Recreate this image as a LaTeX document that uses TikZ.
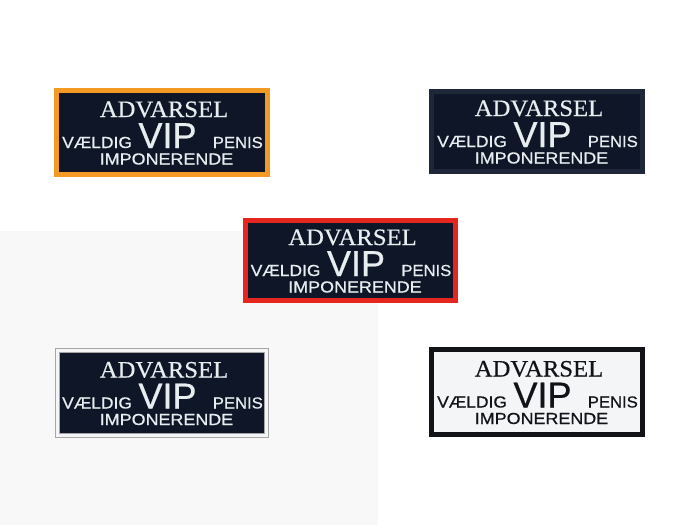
\documentclass[tikz,border=0pt]{standalone}
\usepackage{fontspec}
\setmainfont{Liberation Serif}
\newfontfamily\patchsans{Liberation Sans}[FakeBold=0.7]
\newfontfamily\patchserif{Liberation Serif}[FakeBold=0.5]
\definecolor{patchnavy}{HTML}{0E1628}
\definecolor{stitch}{HTML}{E8EEF0}
\definecolor{inkblack}{HTML}{111318}
\definecolor{patchwhite}{HTML}{F3F5F7}
\definecolor{borderorange}{HTML}{F39A25}
\definecolor{borderred}{HTML}{E5261E}
\definecolor{bordernavy}{HTML}{1E2639}
\definecolor{bgpanel}{HTML}{F8F8F9}
\tikzset{
  patchbox/.style={rectangle, line width=5pt, inner sep=0pt, outer sep=0pt},
  advtext/.style={inner sep=0pt, anchor=base, text depth=0pt, text height=15pt, font=\fontsize{23.5}{24}\patchserif},
  viptext/.style={inner sep=0pt, anchor=base, text depth=0pt, text height=26pt, font=\fontsize{36}{36}\patchsans},
  smalltext/.style={inner sep=0pt, text depth=0pt, text height=11pt, font=\fontsize{16}{16}\patchsans},
}
% #1 name, #2 cx, #3 cy, #4 width, #5 height, #6 box options, #7 fill, #8 text colour
\newcommand\drawpatch[8]{%
  \node[patchbox, minimum width=#4pt-5pt, minimum height=#5pt-5pt, fill=#7, #6] (#1) at (#2,#3) {};
  \node[advtext, text=#8] (#1-adv) at (#2+2,#3-15.5) {\scalebox{1.05}[1]{ADVARSEL}};
  \node[viptext, text=#8] (#1-vip) at (#2+5.5,#3+15.5) {VIP};
  \node[smalltext, anchor=base west, text=#8] (#1-vaeldig) at (#2-100,#3+15.5) {\scalebox{1.09}[1]{VÆLDIG}};
  \node[smalltext, anchor=base east, text=#8] (#1-penis) at (#2+101,#3+15.5) {\scalebox{1.04}[1]{PENIS}};
  \node[smalltext, anchor=base, text=#8] (#1-imp) at (#2+4.5,#3+32) {\scalebox{1.12}[1]{IMPONERENDE}};
}
\begin{document}
\begin{tikzpicture}[x=1pt, y=-1pt]
  \useasboundingbox (0,0) rectangle (700,525);
  \fill[white] (0,0) rectangle (700,525);
  \fill[bgpanel] (0,231) rectangle (378,525);
  \drawpatch{p1}{162}{132.5}{216}{89}{draw=borderorange}{patchnavy}{stitch}
  \drawpatch{p2}{537}{131.5}{216}{85}{draw=bordernavy}{patchnavy}{stitch}
  \drawpatch{p3}{350.5}{260.5}{215}{85}{draw=borderred}{patchnavy}{stitch}
  \drawpatch{p4}{162}{393}{214}{90}{draw=gray!70, line width=0.7pt, double=patchwhite, double distance=3.6pt}{patchnavy}{stitch}
  \drawpatch{p5}{537}{392}{216}{90}{draw=inkblack}{patchwhite}{inkblack}
\end{tikzpicture}
\end{document}
